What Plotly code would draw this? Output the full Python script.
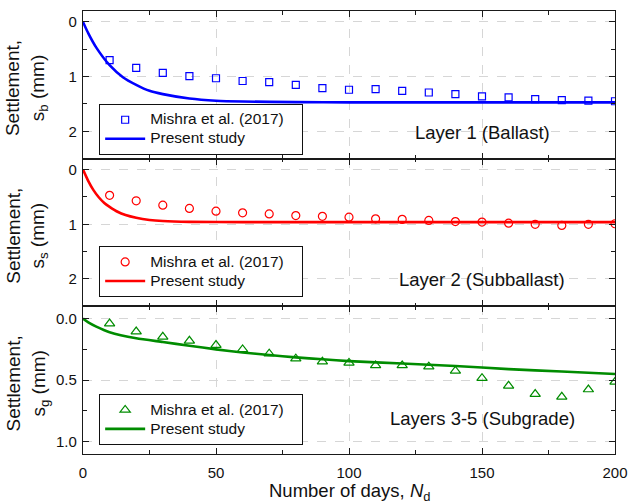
import plotly.graph_objects as go
from plotly.subplots import make_subplots

# Field measurements (Mishra et al., 2017), sampled every 10 days
days_obs = [10, 20, 30, 40, 50, 60, 70, 80, 90, 100,
            110, 120, 130, 140, 150, 160, 170, 180, 190, 200]
ballast_obs = [0.70, 0.84, 0.93, 0.99, 1.03, 1.08, 1.10, 1.15, 1.21, 1.24,
               1.23, 1.26, 1.29, 1.32, 1.36, 1.38, 1.41, 1.43, 1.44, 1.45]
subballast_obs = [0.47, 0.57, 0.65, 0.71, 0.76, 0.79, 0.81, 0.84, 0.855, 0.87,
                  0.90, 0.91, 0.93, 0.95, 0.96, 0.98, 1.00, 1.02, 1.00, 0.99]
subgrade_obs = [0.04, 0.105, 0.148, 0.18, 0.215, 0.25, 0.285, 0.325, 0.35, 0.36,
                0.38, 0.38, 0.39, 0.425, 0.484, 0.546, 0.613, 0.635, 0.576, 0.514]

# Model predictions (present study)
ballast_days = [0, 2, 5, 10, 15, 20, 25, 30, 40, 50, 60, 80, 100, 150, 200]
ballast_model = [0, 0.21, 0.47, 0.79, 1.01, 1.15, 1.26, 1.32, 1.40, 1.44,
                 1.455, 1.467, 1.47, 1.47, 1.47]

subballast_days = [0, 2, 4, 6, 8, 10, 13, 16, 20, 25, 30, 40, 60, 100, 200]
subballast_model = [0, 0.21, 0.38, 0.51, 0.61, 0.68, 0.77, 0.83, 0.88, 0.92,
                    0.94, 0.955, 0.96, 0.96, 0.96]

subgrade_days = [0, 2, 5, 10, 20, 30, 40, 50, 60, 70, 80, 90, 100,
                 120, 140, 160, 180, 200]
subgrade_model = [0, 0.03, 0.065, 0.11, 0.16, 0.19, 0.22, 0.25, 0.275, 0.295,
                  0.315, 0.33, 0.345, 0.365, 0.385, 0.41, 0.43, 0.45]

layers = [
    dict(name="b", obs=ballast_obs, mdays=ballast_days, model=ballast_model,
         color="#0000ff", symbol="square-open", msize=7,
         label="Layer 1 (Ballast)", yrange=[2.5, -0.2], dtick=1, minor=0.5,
         fmt="d"),
    dict(name="s", obs=subballast_obs, mdays=subballast_days, model=subballast_model,
         color="#ff0000", symbol="circle-open", msize=8,
         label="Layer 2 (Subballast)", yrange=[2.5, -0.2], dtick=1, minor=0.5,
         fmt="d"),
    dict(name="g", obs=subgrade_obs, mdays=subgrade_days, model=subgrade_model,
         color="#008c00", symbol="triangle-up-open", msize=9,
         label="Layers 3-5 (Subgrade)", yrange=[1.1, -0.1], dtick=0.5, minor=0.25,
         fmt=".1f"),
]

FONT = "Liberation Sans, Arial, sans-serif"
AXIS_COLOR = "#1a1a1a"
NBSP = "\u00a0"


def legend_label(text, pad=0):
    # legend rows are spaced from a small base font; the label itself is larger,
    # with optional trailing space to widen the legend frame
    return f'<span style="font-size:15.5px">{text}{NBSP * pad}</span>'


fig = make_subplots(rows=3, cols=1, shared_xaxes=True, vertical_spacing=0)

legend_tops = [0.790, 0.469, 0.135]
label_ys = [0.725, 0.3945, 0.0796]
title_ys = [5 / 6 - 0.007, 1 / 2 - 0.007, 1 / 6 - 0.007]

for i, layer in enumerate(layers):
    row = i + 1
    leg = "legend" if i == 0 else f"legend{i + 1}"
    fig.add_trace(go.Scatter(
        x=days_obs, y=layer["obs"], mode="markers",
        name=legend_label("Mishra et al. (2017)", pad=3),
        marker=dict(symbol=layer["symbol"], size=layer["msize"], color=layer["color"],
                    line=dict(width=1.2, color=layer["color"])),
        legend=leg,
    ), row=row, col=1)
    fig.add_trace(go.Scatter(
        x=layer["mdays"], y=layer["model"], mode="lines",
        name=legend_label("Present study"),
        line=dict(color=layer["color"], width=2.6, shape="spline", smoothing=0.6),
        legend=leg,
    ), row=row, col=1)

    fig.update_yaxes(
        range=layer["yrange"], dtick=layer["dtick"], tick0=0, tickformat=layer["fmt"],
        ticks="inside", ticklen=6, tickwidth=1.2, tickcolor=AXIS_COLOR,
        minor=dict(ticks="inside", ticklen=3.5, dtick=layer["minor"], tick0=0,
                   tickcolor=AXIS_COLOR, showgrid=False),
        showline=True, linecolor=AXIS_COLOR, linewidth=1.3, mirror="allticks",
        showgrid=True, gridcolor="#d6d6d6", gridwidth=1, griddash="dash",
        zeroline=False, automargin=False, ticklabelstandoff=2,
        tickfont=dict(size=15, color="#111", family=FONT),
        row=row, col=1,
    )
    fig.update_xaxes(
        range=[0, 200], dtick=50, tick0=0,
        ticks="inside", ticklen=6, tickwidth=1.2, tickcolor=AXIS_COLOR,
        minor=dict(ticks="inside", ticklen=3.5, dtick=25, tick0=0,
                   tickcolor=AXIS_COLOR, showgrid=False),
        showline=True, linecolor=AXIS_COLOR, linewidth=1.3, mirror="allticks",
        showgrid=True, gridcolor="#d6d6d6", gridwidth=1, griddash="dash",
        zeroline=False, automargin=False, showticklabels=(row == 3),
        ticklabelstandoff=5,
        tickfont=dict(size=15, color="#111", family=FONT),
        row=row, col=1,
    )

    fig.update_layout({leg: dict(
        x=0.030, y=legend_tops[i], xanchor="left", yanchor="top",
        bgcolor="white", bordercolor="#111", borderwidth=1.2,
        font=dict(size=12, color="#111", family=FONT),
        tracegroupgap=0, itemwidth=40,
    )})

    fig.add_annotation(
        text=layer["label"], x=0.75, y=label_ys[i], xref="paper", yref="paper",
        xanchor="center", yanchor="middle", showarrow=False,
        font=dict(size=18.5, color="#111", family=FONT),
    )
    fig.add_annotation(
        text=f"Settlement,<br>s<sub>{layer['name']}</sub> (mm)",
        x=-0.105, y=title_ys[i], xref="paper", yref="paper",
        xanchor="center", yanchor="middle", textangle=-90, showarrow=False,
        font=dict(size=19, color="#111", family=FONT),
    )

# x-axis title, set just below the bottom panel's tick labels
fig.add_annotation(
    text="Number of days, <i>N</i><sub>d</sub>",
    x=0.5, y=-0.086, xref="paper", yref="paper",
    xanchor="center", yanchor="middle", showarrow=False,
    font=dict(size=18.5, color="#111", family=FONT),
)

fig.update_layout(
    width=631, height=504,
    margin=dict(l=83, r=16, t=11, b=50),
    paper_bgcolor="white", plot_bgcolor="white",
    font=dict(family=FONT, color="#111"),
    showlegend=True,
)

fig.write_html("out.html")
